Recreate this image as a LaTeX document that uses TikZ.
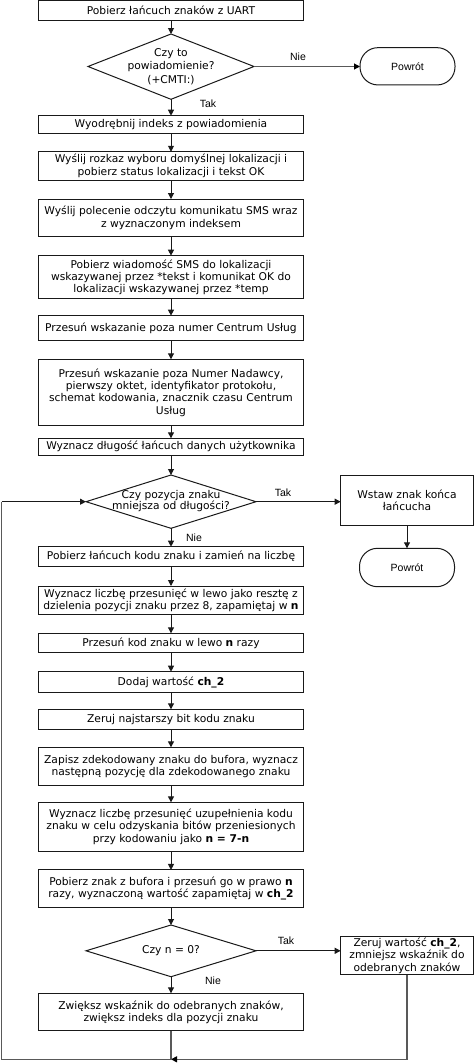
\documentclass[tikz,border=0pt]{standalone}
\usepackage{fontspec}
\setmainfont{DejaVu Sans}
\newfontfamily\lblfont{Liberation Sans}
\usetikzlibrary{arrows.meta,shapes.geometric}
\begin{document}
\begin{tikzpicture}[x=1pt,y=-1pt,
  every node/.style={inner sep=1pt, outer sep=0pt},
  box/.style={draw=black!90, line width=1pt, fill=white, minimum width=264.6pt, align=center, font=\fontsize{10.7}{12.3}\selectfont},
  rbox/.style={draw=black!90, line width=1pt, fill=white, minimum width=132.6pt, align=center, font=\fontsize{10.7}{12.3}\selectfont},
  dec/.style={draw=black!90, line width=1pt},
  term/.style={draw=black!90, line width=1pt, rounded corners=18pt, minimum width=95pt, font=\lblfont\fontsize{10.5}{12}\selectfont},
  lbl/.style={font=\lblfont\fontsize{10.5}{12}\selectfont},
  conn/.style={draw=black!90, line width=1pt},
  longconn/.style={draw=black!65, line width=1.1pt},
  arr/.style={conn, -{Triangle[length=6pt,width=6pt]}},
  larr/.style={longconn, -{Triangle[length=6pt,width=6pt,color=black]}}
]
\useasboundingbox (0,0) rectangle (474,1063);

\node[box, minimum height=19.5pt] (b1) at (171,10.3) {Pobierz łańcuch znaków z UART};
\draw[dec] (171,34) -- (254,66.5) -- (171,99.3) -- (88,66.5) -- cycle;
\node[align=center, font=\fontsize{10.7}{13.5}\selectfont] (d1) at (171,66.5) {Czy to\\powiadomienie?\\(+CMTI:)};
\coordinate (d1n) at (171,34);
\coordinate (d1s) at (171,99.3);
\coordinate (d1e) at (254,66.5);
\node[term, minimum height=37.3pt] (t1) at (407.5,66.3) {Powrót};
\node[box, minimum height=17.6pt] (b2) at (171,124.5) {Wyodrębnij indeks z powiadomienia};
\node[box, minimum height=28.3pt] (b3) at (171,165.9) {Wyślij rozkaz wyboru domyślnej lokalizacji i\\pobierz status lokalizacji i tekst OK};
\node[box, minimum height=37.7pt] (b4) at (171,217.9) {Wyślij polecenie odczytu komunikatu SMS wraz\\z wyznaczonym indeksem};
\node[box, minimum height=43.3pt] (b5) at (171,277.3) {Pobierz wiadomość SMS do lokalizacji\\wskazywanej przez *tekst i komunikat OK do\\lokalizacji wskazywanej przez *temp};
\node[box, minimum height=25.3pt] (b6) at (171,328.3) {Przesuń wskazanie poza numer Centrum Usług};
\node[box, minimum height=66.4pt] (b7) at (171,392.5) {Przesuń wskazanie poza Numer Nadawcy,\\pierwszy oktet, identyfikator protokołu,\\schemat kodowania, znacznik czasu Centrum\\Usług};
\node[box, minimum height=16.7pt] (b8) at (171,446.7) {Wyznacz długość łańcuch danych użytkownika};

\draw[dec] (171,475) -- (256,501.7) -- (171,528.3) -- (86,501.7) -- cycle;
\node[align=center, font=\fontsize{10.7}{11.7}\selectfont] (d2) at (171,501) {Czy pozycja znaku\\mniejsza od długości?};
\coordinate (d2n) at (171,475);
\coordinate (d2s) at (171,528.3);
\coordinate (d2e) at (256,501.7);
\coordinate (d2w) at (86,501.7);
\node[rbox, minimum height=50pt] (w1) at (407,500) {Wstaw znak końca\\łańcucha};
\node[term, minimum height=38.4pt] (t2) at (407,567.5) {Powrót};

\node[box, minimum height=20pt] (b9) at (171,556.7) {Pobierz łańcuch kodu znaku i zamień na liczbę};
\node[box, minimum height=28pt] (b10) at (171,600) {Wyznacz liczbę przesunięć w lewo jako resztę z\\dzielenia pozycji znaku przez 8, zapamiętaj w \textbf{n}};
\node[box, minimum height=19.4pt] (b11) at (171,643) {Przesuń kod znaku w lewo \textbf{n} razy};
\node[box, minimum height=20.6pt] (b12) at (171,682) {Dodaj wartość \textbf{ch\_2}};
\node[box, minimum height=20pt] (b13) at (171,719.3) {Zeruj najstarszy bit kodu znaku};
\node[box, minimum height=37.7pt] (b14) at (171,766.2) {Zapisz zdekodowany znaku do bufora, wyznacz\\następną pozycję dla zdekodowanego znaku};
\node[box, minimum height=48.7pt] (b15) at (171,826.7) {Wyznacz liczbę przesunięć uzupełnienia kodu\\znaku w celu odzyskania bitów przeniesionych\\przy kodowaniu jako \textbf{n = 7-n}};
\node[box, minimum height=37.7pt] (b16) at (171,888.8) {Pobierz znak z bufora i przesuń go w prawo \textbf{n}\\razy, wyznaczoną wartość zapamiętaj w \textbf{ch\_2}};

\draw[dec] (171,925) -- (256,950.8) -- (171,976.7) -- (86,950.8) -- cycle;
\node[font=\fontsize{10.7}{13}\selectfont] (d3) at (171,950.8) {Czy n = 0?};
\coordinate (d3n) at (171,925);
\coordinate (d3s) at (171,976.7);
\coordinate (d3e) at (256,950.8);
\node[rbox, minimum height=38.3pt] (z1) at (407,955.8) {Zeruj wartość \textbf{ch\_2},\\zmniejsz wskaźnik do\\odebranych znaków};
\node[box, minimum height=37.4pt] (b17) at (171,1012) {Zwiększ wskaźnik do odebranych znaków,\\zwiększ indeks dla pozycji znaku};

\coordinate (j) at (171,1059.3);
\coordinate (lb) at (1.5,1059.3);

% connectors
\draw[arr] (b1) -- (d1n);
\draw[larr] (d1e) -- (d1e -| t1.west);
\draw[arr] (d1s) -- (b2);
\draw[arr] (b2) -- (b3);
\draw[arr] (b3) -- (b4);
\draw[arr] (b4) -- (b5);
\draw[arr] (b5) -- (b6);
\draw[arr] (b6) -- (b7);
\draw[arr] (b7) -- (b8);
\draw[arr] (b8) -- (d2n);
\draw[arr] (d2e) -- (d2e -| w1.west);
\draw[arr] (w1) -- (t2);
\draw[arr] (d2s) -- (b9);
\draw[arr] (b9) -- (b10);
\draw[arr] (b10) -- (b11);
\draw[arr] (b11) -- (b12);
\draw[arr] (b12) -- (b13);
\draw[arr] (b13) -- (b14);
\draw[arr] (b14) -- (b15);
\draw[arr] (b15) -- (b16);
\draw[arr] (b16) -- (d3n);
\draw[arr] (d3e) -- (d3e -| z1.west);
\draw[arr] (d3s) -- (b17);
\draw[longconn] (b17) -- (j);
\draw[larr] (z1.south) |- (j);
\draw[longconn] (j) -- (lb) -- (lb |- d2w);
\draw[arr] (lb |- d2w) -- (d2w);

% labels
\node[lbl] (l1) at (298,57) {Nie};
\node[lbl] (l2) at (208,103.5) {Tak};
\node[lbl] (l3) at (283,492.7) {Tak};
\node[lbl] (l4) at (194,538) {Nie};
\node[lbl] (l5) at (286,940.7) {Tak};
\node[lbl] (l6) at (213,981) {Nie};
\end{tikzpicture}
\end{document}
